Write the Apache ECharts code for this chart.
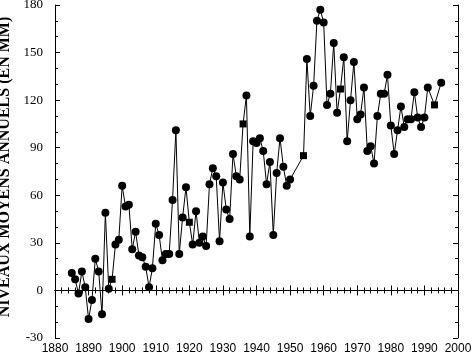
<!DOCTYPE html>
<html><head><meta charset="utf-8">
<script src="https://cdn.jsdelivr.net/npm/echarts@6/dist/echarts.min.js"></script>
<style>html,body{margin:0;padding:0;background:#fff}#c{width:472px;height:356px}</style>
</head><body><div id="c"></div>
<script>
const years = [1885,1886,1887,1888,1889,1890,1891,1892,1893,1894,1895,1896,1897,1898,1899,
1900,1901,1902,1903,1904,1905,1906,1907,1908,1909,1910,1911,1912,1913,1914,1915,1916,1917,1918,1919,
1920,1921,1922,1923,1924,1925,1926,1927,1928,1929,1930,1931,1932,1933,1934,1935,1936,1937,1938,1939,
1940,1941,1942,1943,1944,1945,1946,1947,1948,1949,1950,
1954,1955,1956,1957,1958,1959,1960,1961,1962,1963,1964,1965,1966,1967,1968,1969,
1970,1971,1972,1973,1974,1975,1976,1977,1978,1979,1980,1981,1982,1983,1984,1985,1986,1987,1988,1989,
1990,1991,1993,1995];
const levels = [11,7,-2,12,2,-18,-6,20,12,-15,49,1,7,29,32,
66,53,54,26,37,22,21,15,2,14,42,35,19,23,23,57,101,23,46,65,
43,29,50,30,34,28,67,77,72,31,68,51,45,86,72,70,105,123,34,94,
93,96,88,67,81,35,74,96,78,66,70,
85,146,110,129,170,177,169,117,124,156,112,127,147,94,120,144,
108,111,128,88,91,80,110,124,124,136,104,86,101,116,103,108,108,125,109,103,
109,128,117,131];
const squareYears = [1897,1920,1936,1954,1965,1993];
const xTicks = ['1880','1890','1900','1910','1920','1930','1940','1950','1960','1970','1980','1990','2000'];
const yTicks = ['-30','0','30','60','90','120','150','180'];
const yTitle = 'NIVEAUX MOYENS ANNUELS (EN MM)';

const data = years.map((y,i)=>{
  const sq = squareYears.indexOf(y) >= 0;
  return {value:[y, levels[i]], symbol: sq ? 'rect' : 'circle', symbolSize: sq ? 7 : 8};
});
const axLine = {show:true, lineStyle:{color:'#000', width:1}};
const chart = echarts.init(document.getElementById('c'), null, {renderer:'canvas'});
chart.setOption({
  animation:false,
  backgroundColor:'#fff',
  grid:{left:55, right:14, top:5, bottom:18, containLabel:false, outerBoundsMode:'none'},
  xAxis:[{
    type:'value', min:1880, max:2000, interval:10, position:'bottom',
    axisLine:axLine,
    axisTick:{show:true, inside:true, length:5, lineStyle:{color:'#000'}},
    minorTick:{show:true, splitNumber:5, length:3, lineStyle:{color:'#000'}},
    splitLine:{show:false},
    axisLabel:{margin:5, color:'#000', fontFamily:'Liberation Sans', fontSize:12,
      formatter:v=>xTicks[Math.round((v-1880)/10)]}
  },{
    type:'value', min:1880, max:2000, interval:10, position:'top',
    axisLine:axLine,
    axisTick:{show:true, inside:true, length:5, lineStyle:{color:'#000'}},
    minorTick:{show:true, splitNumber:5, length:3, lineStyle:{color:'#000'}},
    splitLine:{show:false}, axisLabel:{show:false}
  }],
  yAxis:[{
    type:'value', min:-30, max:180, interval:30, position:'left',
    axisLine:axLine,
    axisTick:{show:true, inside:true, length:5, lineStyle:{color:'#000'}},
    minorTick:{show:true, splitNumber:3, length:3, lineStyle:{color:'#000'}},
    splitLine:{show:false},
    axisLabel:{margin:12, color:'#000', fontFamily:'Liberation Serif', fontSize:13,
      formatter:v=>yTicks[Math.round((v+30)/30)]},
    name:yTitle, nameLocation:'middle', nameGap:42, nameRotate:90,
    nameTextStyle:{color:'#000', fontFamily:'Liberation Serif', fontWeight:'bold', fontSize:16,
      padding:[0,0,0,9]}
  },{
    type:'value', min:-30, max:180, interval:30, position:'right',
    axisLine:axLine,
    axisTick:{show:true, inside:true, length:5, lineStyle:{color:'#000'}},
    minorTick:{show:true, splitNumber:3, length:3, lineStyle:{color:'#000'}},
    splitLine:{show:false}, axisLabel:{show:false}
  }],
  series:[{
    type:'line', xAxisIndex:0, yAxisIndex:0, data:data,
    lineStyle:{color:'#000', width:1}, itemStyle:{color:'#000'},
    showAllSymbol:true
  }]
});
</script></body></html>
